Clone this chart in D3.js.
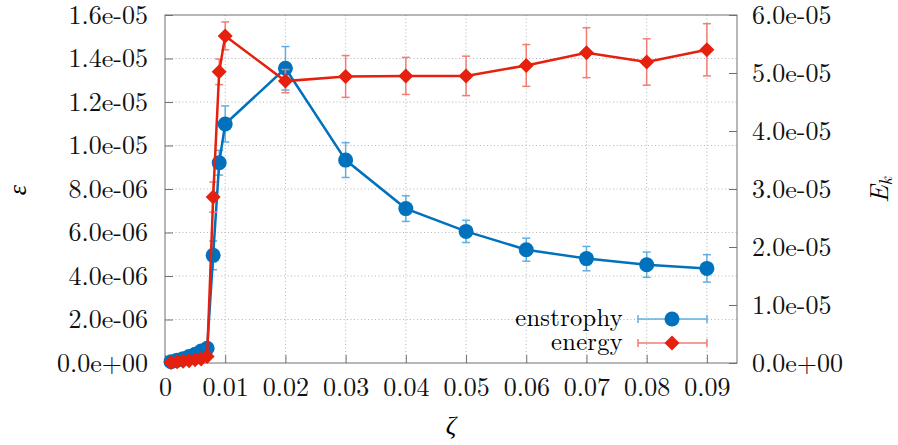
<!DOCTYPE html>
<html>
<head>
<meta charset="utf-8">
<script src="https://cdn.jsdelivr.net/npm/d3@7"></script>
<style>
  html, body { margin: 0; padding: 0; background: #fff; }
  svg { display: block; }
</style>
</head>
<body>
<svg id="chart" width="898" height="445"></svg>
<script>
// ---- data ----
const zeta = [0.001, 0.002, 0.003, 0.004, 0.005, 0.006, 0.007, 0.008, 0.009, 0.01,
              0.02, 0.03, 0.04, 0.05, 0.06, 0.07, 0.08, 0.09];
const enstrophy = [6e-8, 1.3e-7, 2.0e-7, 3.0e-7, 4.0e-7, 5.5e-7, 6.8e-7, 4.95e-6, 9.21e-6, 1.099e-5,
                   1.355e-5, 9.33e-6, 7.10e-6, 6.05e-6, 5.21e-6, 4.80e-6, 4.52e-6, 4.35e-6];
const enstrophyErr = [1e-8, 2e-8, 3e-8, 3e-8, 4e-8, 5e-8, 6e-8, 6.6e-7, 5.7e-7, 8.3e-7,
                      1.0e-6, 8.0e-7, 5.9e-7, 5.1e-7, 5.3e-7, 5.6e-7, 5.8e-7, 6.3e-7];
const energy = [1e-7, 2e-7, 3e-7, 4e-7, 5.5e-7, 7e-7, 1.1e-6, 2.86e-5, 5.02e-5, 5.64e-5,
                4.86e-5, 4.94e-5, 4.95e-5, 4.95e-5, 5.13e-5, 5.35e-5, 5.19e-5, 5.40e-5];
const energyErr = [2e-8, 3e-8, 4e-8, 5e-8, 6e-8, 8e-8, 1e-7, 2.6e-6, 2.2e-6, 2.4e-6,
                   2.0e-6, 3.6e-6, 3.2e-6, 3.4e-6, 3.6e-6, 4.3e-6, 4.0e-6, 4.5e-6];
const xTicks = [0, 0.01, 0.02, 0.03, 0.04, 0.05, 0.06, 0.07, 0.08, 0.09];
const yTicks = [0, 2e-6, 4e-6, 6e-6, 8e-6, 1.0e-5, 1.2e-5, 1.4e-5, 1.6e-5];
const y2Ticks = [0, 1e-5, 2e-5, 3e-5, 4e-5, 5e-5, 6e-5];
const seriesNames = ["enstrophy", "energy"];

// ---- layout ----
const W = 898, H = 445;
const M = {left: 165, right: 161, top: 15, bottom: 82};
const iw = W - M.left - M.right, ih = H - M.top - M.bottom;
const FS = 26;
const FONT = '"Latin Modern Roman", "CMU Serif", "Liberation Serif", serif';
const blue = "#0072bd", blueErr = "#62aee0";
const red = "#e6200e", redErr = "#f27d72";

const svg = d3.select("#chart");
const g = svg.append("g").attr("transform", `translate(${M.left},${M.top})`);

const x = d3.scaleLinear().domain([0, 0.095]).range([0, iw]);
const y = d3.scaleLinear().domain([0, 1.6e-5]).range([ih, 0]);
const y2 = d3.scaleLinear().domain([0, 6e-5]).range([ih, 0]);

const expFmt = v => v.toExponential(1).replace(/e([+-])(\d)$/, "e$10$2");

// grid
const grid = g.append("g").attr("stroke", "#b4b4b4").attr("stroke-width", 1).attr("stroke-dasharray", "1,2.5");
grid.selectAll(".gx").data(xTicks.filter(d => d > 0)).join("line")
  .attr("x1", d => x(d)).attr("x2", d => x(d)).attr("y1", 0).attr("y2", ih);
grid.selectAll(".gy").data(yTicks.filter(d => d > 0 && d < 1.6e-5)).join("line")
  .attr("y1", d => y(d)).attr("y2", d => y(d)).attr("x1", 0).attr("x2", iw);

// axes
function styleAxis(sel) {
  sel.select(".domain").remove();
  sel.selectAll(".tick line").attr("stroke", "#707070");
  sel.selectAll("text").attr("fill", "#111");
}
g.append("g").attr("transform", `translate(0,${ih})`)
  .call(d3.axisBottom(x).tickValues(xTicks).tickFormat(d => d === 0 ? "0" : d.toFixed(2)).tickSize(-8).tickPadding(15))
  .call(styleAxis);
g.append("g")
  .call(d3.axisLeft(y).tickValues(yTicks).tickFormat(expFmt).tickSize(-8).tickPadding(17))
  .call(styleAxis);
g.append("g").attr("transform", `translate(${iw},0)`)
  .call(d3.axisRight(y2).tickValues(y2Ticks).tickFormat(expFmt).tickSize(-8).tickPadding(15))
  .call(styleAxis);

// border
g.append("rect").attr("width", iw).attr("height", ih).attr("fill", "none")
  .attr("stroke", "#707070").attr("stroke-width", 1);

// series
const diamondPath = d3.symbol().type(d3.symbolSquare).size(2 * 7.5 * 7.5)();
function drawSeries(vals, errs, ys, color, errColor, marker) {
  const pts = zeta.map((z, i) => ({z, v: vals[i], e: errs[i]}));
  const eg = g.append("g").attr("stroke", errColor).attr("stroke-width", 1.5);
  pts.forEach(p => {
    const px = x(p.z), t = ys(p.v + p.e), b = ys(p.v - p.e);
    eg.append("line").attr("x1", px).attr("x2", px).attr("y1", t).attr("y2", b);
    eg.append("line").attr("x1", px - 4).attr("x2", px + 4).attr("y1", t).attr("y2", t);
    eg.append("line").attr("x1", px - 4).attr("x2", px + 4).attr("y1", b).attr("y2", b);
  });
  g.append("path").datum(pts)
    .attr("fill", "none").attr("stroke", color).attr("stroke-width", 2.5)
    .attr("d", d3.line().x(d => x(d.z)).y(d => ys(d.v)));
  g.append("g").selectAll("path").data(pts).join("path")
    .attr("transform", d => `translate(${x(d.z)},${ys(d.v)})${marker === "circle" ? "" : " rotate(45)"}`)
    .attr("d", marker === "circle" ? d3.symbol().type(d3.symbolCircle).size(Math.PI * 7.5 * 7.5)() : diamondPath)
    .attr("fill", color);
}
drawSeries(enstrophy, enstrophyErr, y, blue, blueErr, "circle");
drawSeries(energy, energyErr, y2, red, redErr, "diamond");

// legend
const legend = [
  {name: seriesNames[0], color: blue, err: blueErr, marker: "circle", yy: 319},
  {name: seriesNames[1], color: red, err: redErr, marker: "diamond", yy: 343}
];
legend.forEach(l => {
  svg.append("text").attr("x", 623).attr("y", l.yy).attr("dy", "0.28em")
    .attr("text-anchor", "end").attr("font-size", 24.5).attr("letter-spacing", 0.3).text(l.name);
  const lg = svg.append("g").attr("stroke", l.err).attr("stroke-width", 1.5);
  lg.append("line").attr("x1", 638).attr("x2", 707).attr("y1", l.yy).attr("y2", l.yy);
  lg.append("line").attr("x1", 638).attr("x2", 638).attr("y1", l.yy - 4).attr("y2", l.yy + 4);
  lg.append("line").attr("x1", 707).attr("x2", 707).attr("y1", l.yy - 4).attr("y2", l.yy + 4);
  if (l.marker === "circle") {
    svg.append("circle").attr("cx", 672).attr("cy", l.yy).attr("r", 7.5).attr("fill", l.color);
  } else {
    svg.append("path").attr("transform", `translate(672,${l.yy}) rotate(45)`)
      .attr("d", diamondPath).attr("fill", l.color);
  }
});

// axis titles
svg.append("text").attr("x", M.left + iw / 2).attr("y", 434).attr("text-anchor", "middle")
  .attr("font-size", FS).attr("font-style", "italic").text("ζ");
svg.append("text").attr("transform", "translate(26,190) rotate(-90)").attr("text-anchor", "middle")
  .attr("font-size", FS).attr("font-style", "italic").text("ε");
const ek = svg.append("text").attr("transform", "translate(888,190) rotate(-90)").attr("text-anchor", "middle")
  .attr("font-size", FS).attr("font-style", "italic");
ek.append("tspan").text("E");
ek.append("tspan").attr("font-size", FS * 0.7).attr("dy", 4).text("k");

// fonts everywhere (inline style beats d3-axis attributes)
svg.selectAll("text").style("font-family", FONT).style("font-size", function () {
  return this.getAttribute("font-size") ? this.getAttribute("font-size") + "px" : FS + "px";
});
</script>
</body>
</html>
